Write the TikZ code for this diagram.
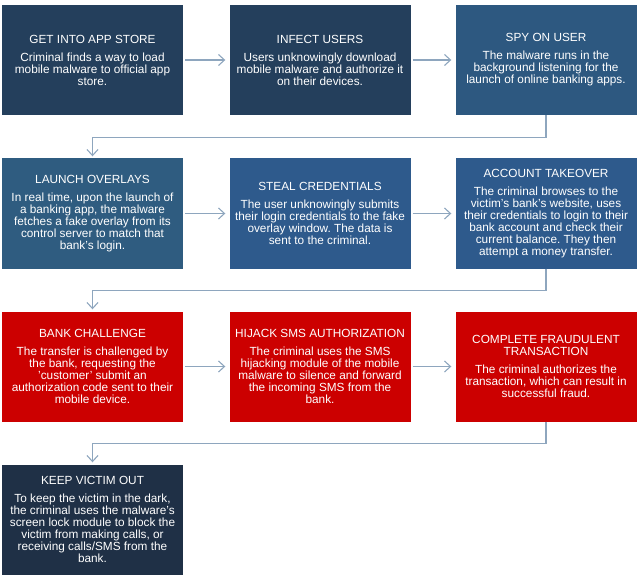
\documentclass[tikz,border=0pt]{standalone}
\usepackage{fontspec}
\setmainfont{Liberation Sans}
\usetikzlibrary{arrows.meta}
\definecolor{navy}{HTML}{243F5C}
\definecolor{midblue}{HTML}{2D5880}
\definecolor{steel}{HTML}{2F5C80}
\definecolor{royal}{HTML}{2E5A8C}
\definecolor{alarm}{HTML}{CC0000}
\definecolor{night}{HTML}{1F3046}
\definecolor{linkgray}{HTML}{8EA6BE}
\frenchspacing
\begin{document}
\begin{tikzpicture}[x=1pt, y=1pt,
    stage/.style={minimum width=181pt, minimum height=110pt, inner sep=0pt,
      align=center, text=white, font=\fontsize{11.8}{12}\selectfont},
    link/.style={draw=linkgray, line width=1.1pt,
      -{Straight Barb[length=6pt,width=11pt]}}]
    \useasboundingbox (0,0) rectangle (639,-580);

    % Draw first row of stages
    \node[stage, fill=navy] (store) at (92.5,-60) {GET INTO APP STORE\\[6pt]Criminal finds a way to load\\mobile malware to official app\\store.};
    \node[stage, fill=navy] (infect) at (320,-60) {INFECT USERS\\[6pt]Users unknowingly download\\mobile malware and authorize it\\on their devices.};
    \node[stage, fill=midblue] (spy) at (546,-60) {SPY ON USER\\[6pt]The malware runs in the\\background listening for the\\launch of online banking apps.};

    % Draw second row of stages
    \node[stage, fill=steel] (overlay) at (92.5,-213.5) {LAUNCH OVERLAYS\\[6pt]In real time, upon the launch of\\a banking app, the malware\\fetches a fake overlay from its\\control server to match that\\bank's login.};
    \node[stage, fill=royal] (steal) at (320,-213.5) {STEAL CREDENTIALS\\[6pt]The user unknowingly submits\\their login credentials to the fake\\overlay window. The data is\\sent to the criminal.};
    \node[stage, fill=royal] (takeover) at (546,-213.5) {ACCOUNT TAKEOVER\\[6pt]The criminal browses to the\\victim's bank's website, uses\\their credentials to login to their\\bank account and check their\\current balance. They then\\attempt a money transfer.};

    % Draw third row of stages
    \node[stage, fill=alarm] (challenge) at (92.5,-366.5) {BANK CHALLENGE\\[6pt]The transfer is challenged by\\the bank, requesting the\\'customer' submit an\\authorization code sent to their\\mobile device.};
    \node[stage, fill=alarm] (hijack) at (320,-366.5) {HIJACK SMS AUTHORIZATION\\[6pt]The criminal uses the SMS\\hijacking module of the mobile\\malware to silence and forward\\the incoming SMS from the\\bank.};
    \node[stage, fill=alarm] (fraud) at (546,-366.5) {COMPLETE FRAUDULENT\\TRANSACTION\\[6pt]The criminal authorizes the\\transaction, which can result in\\successful fraud.};

    % Draw last stage
    \node[stage, fill=night] (lockout) at (92.5,-519.5) {KEEP VICTIM OUT\\[6pt]To keep the victim in the dark,\\the criminal uses the malware's\\screen lock module to block the\\victim from making calls, or\\receiving calls/SMS from the\\bank.};

    % Draw arrows along each row
    \draw[link, shorten <=2pt, shorten >=4pt] (store) -- (infect);
    \draw[link, shorten <=2pt, shorten >=4pt] (infect) -- (spy);
    \draw[link, shorten <=2pt, shorten >=4pt] (overlay) -- (steal);
    \draw[link, shorten <=2pt, shorten >=4pt] (steal) -- (takeover);
    \draw[link, shorten <=2pt, shorten >=4pt] (challenge) -- (hijack);
    \draw[link, shorten <=2pt, shorten >=4pt] (hijack) -- (fraud);

    % Draw arrows from one row to the next
    \draw[link, shorten >=2pt] (spy.south) -- ++(0,-22) -| (overlay.north);
    \draw[link, shorten >=2pt] (takeover.south) -- ++(0,-22) -| (challenge.north);
    \draw[link, shorten >=2pt] (fraud.south) -- ++(0,-22) -| (lockout.north);
\end{tikzpicture}
\end{document}
